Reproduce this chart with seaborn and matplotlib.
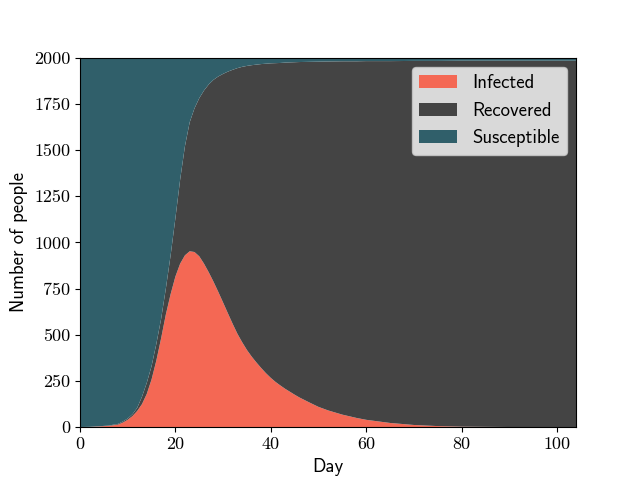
import matplotlib
matplotlib.use("Agg")
import matplotlib.pyplot as plt
import seaborn as sns
import numpy as np

# Data
days = [0, 2, 4, 6, 8,
        9, 10, 11, 12, 13, 14, 15, 16, 17, 18, 19, 20, 21, 22, 23, 24, 25, 26, 27,
        28, 29, 30, 31, 32, 33, 34, 35, 36, 37, 38, 39, 40, 41, 42, 43, 44, 45, 46,
        48, 50, 52, 55, 58, 60, 65, 70, 75, 80, 90, 104]
infected = [1, 2, 4, 7, 14,
            25, 40, 60, 88, 125, 180, 258, 360, 480, 610, 720, 815, 885, 930, 952,
            948, 925, 885, 838, 787, 732, 675, 617, 560, 506, 460, 418, 382, 350, 320,
            292, 267, 245, 226, 208, 192, 176, 161,
            135, 110, 91, 68, 50, 40, 23, 12, 6, 3, 1, 0]
# infected + recovered (top edge of the recovered band)
affected = [1, 2, 5, 9, 18,
            31, 47, 70, 105, 165, 240, 330, 450, 585, 750, 930, 1130, 1340, 1520,
            1650, 1725, 1780, 1822, 1855, 1880, 1898, 1912, 1924, 1934, 1943, 1950,
            1955, 1959, 1962, 1965, 1967, 1969, 1970, 1971, 1973, 1974, 1975, 1976,
            1977, 1978, 1979, 1980, 1980, 1981, 1981, 1982, 1982, 1983, 1983, 1983]
population = 2000
labels = ["Infected", "Recovered", "Susceptible"]
colors = ["#F46854", "#444444", "#305F6A"]

recovered = [a - i for a, i in zip(affected, infected)]
susceptible = [population - a for a in affected]

sns.set_style("white")
plt.rcParams["axes.edgecolor"] = "black"
plt.rcParams["xtick.bottom"] = True
plt.rcParams["ytick.left"] = True
plt.rcParams["text.color"] = "black"
plt.rcParams["axes.labelcolor"] = "black"
plt.rcParams["xtick.color"] = "black"
plt.rcParams["ytick.color"] = "black"

palette = sns.color_palette(colors)

fig, ax = plt.subplots(figsize=(6.4, 4.8), dpi=100)
ax.stackplot(days, infected, recovered, susceptible, labels=labels,
             colors=palette, linewidth=0, edgecolor="none")

ax.set_xlim(0, 104)
ax.set_ylim(0, population)
ax.set_yticks(np.arange(0, 2001, 250))
ax.set_xticks(np.arange(0, 101, 20))

sans = ["cmss10", "DejaVu Sans"]
serif = ["cmr10", "DejaVu Serif"]
ax.set_xlabel("Day", family=sans, fontsize=13.5)
ax.set_ylabel("Number of people", family=sans, fontsize=13.5)
for lab in ax.get_xticklabels() + ax.get_yticklabels():
    lab.set_family(serif)
    lab.set_fontsize(13)
ax.tick_params(direction="out", length=3.5, width=0.8)

leg = ax.legend(loc="upper right", prop={"family": sans, "size": 13.5})

fig.savefig("out.png", dpi=100)
